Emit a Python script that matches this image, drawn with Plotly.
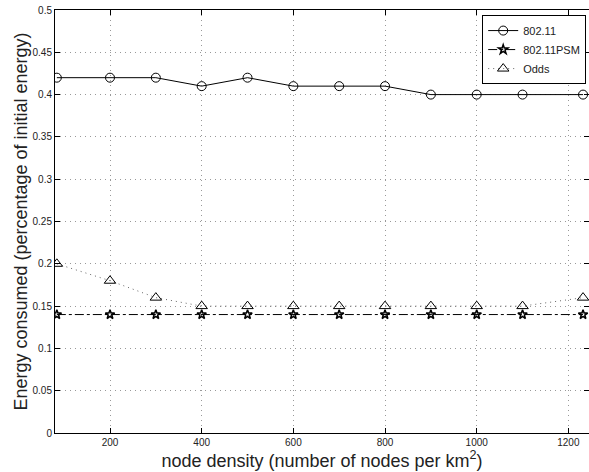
import plotly.graph_objects as go

x_vals = [84, 200, 300, 400, 500, 600, 700, 800, 900, 1000, 1100, 1232]
e_80211 = [0.42, 0.42, 0.42, 0.41, 0.42, 0.41, 0.41, 0.41, 0.40, 0.40, 0.40, 0.40]
e_psm = [0.14] * 12
e_odds = [0.20, 0.18, 0.16, 0.15, 0.15, 0.15, 0.15, 0.15, 0.15, 0.15, 0.15, 0.16]

x_ticks = [200, 400, 600, 800, 1000, 1200]
y_ticks = [0, 0.05, 0.1, 0.15, 0.2, 0.25, 0.3, 0.35, 0.4, 0.45, 0.5]
y_labels = ["0", "0.05", "0.1", "0.15", "0.2", "0.25", "0.3", "0.35", "0.4", "0.45", "0.5"]

fig = go.Figure()
fig.add_trace(go.Scatter(x=x_vals, y=e_80211, name="802.11", mode="lines+markers",
                         line=dict(color="black", width=1),
                         marker=dict(symbol="circle-open", size=9, color="black", line=dict(width=1))))
fig.add_trace(go.Scatter(x=x_vals, y=e_psm, name="802.11PSM", mode="lines+markers",
                         line=dict(color="black", width=1, dash="dashdot"),
                         marker=dict(symbol="star-open", size=7, color="black", line=dict(width=1.5))))
fig.add_trace(go.Scatter(x=x_vals, y=e_odds, name="Odds", mode="lines+markers",
                         line=dict(color="#666", width=1, dash="1px,4px"),
                         marker=dict(symbol="triangle-up-open", size=10, color="black", line=dict(width=1))))

axis_common = dict(showline=True, linecolor="black", linewidth=1, mirror="ticks",
                   ticks="inside", ticklen=5, tickcolor="black",
                   showgrid=True, gridcolor="#999", griddash="1px,4px", gridwidth=1,
                   zeroline=False, tickfont=dict(size=10, color="#222"))

fig.update_layout(
    width=589, height=472,
    margin=dict(l=55, r=0, t=10, b=39),
    plot_bgcolor="white", paper_bgcolor="white",
    font=dict(family="Liberation Sans, Arial, sans-serif", color="#222"),
    xaxis=dict(range=[80, 1245], tickvals=x_ticks, ticktext=[str(v) for v in x_ticks],
               title=dict(text="node density (number of nodes per km<sup>2</sup>)",
                          font=dict(size=18), standoff=2), **axis_common),
    yaxis=dict(range=[0, 0.5], tickvals=y_ticks, ticktext=y_labels,
               title=dict(text="Energy consumed (percentage of initial energy)",
                          font=dict(size=18), standoff=0), **axis_common),
    legend=dict(x=0.80, y=0.988, xanchor="left", yanchor="top",
                bordercolor="black", borderwidth=1, bgcolor="white",
                font=dict(size=11, color="#222"), tracegroupgap=0, itemwidth=30),
    showlegend=True,
)

fig.write_html("out.html")
